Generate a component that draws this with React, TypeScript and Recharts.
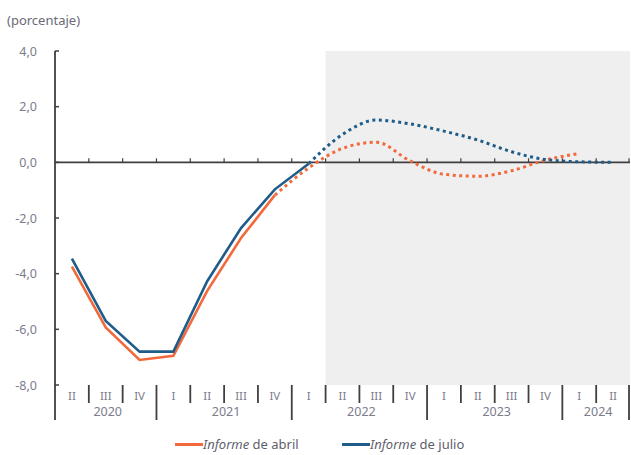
import { LineChart, Line, XAxis, YAxis, ReferenceArea, ReferenceLine } from 'recharts';

// Quarters shown on the horizontal axis, with their year
const quarters = ['II', 'III', 'IV', 'I', 'II', 'III', 'IV', 'I', 'II', 'III', 'IV', 'I', 'II', 'III', 'IV', 'I', 'II'];
const years = ['2020', '2020', '2020', '2021', '2021', '2021', '2021', '2022', '2022', '2022', '2022', '2023', '2023', '2023', '2023', '2024', '2024'];

// Informe de abril (orange) and Informe de julio (blue), percentage
const abril = [-3.75, -5.93, -7.1, -6.95, -4.62, -2.72, -1.18, -0.2, 0.5, 0.72, 0.05, -0.43, -0.5, -0.3, 0.08, 0.32, null];
const julio = [-3.46, -5.7, -6.8, -6.8, -4.27, -2.36, -0.97, -0.05, 1.0, 1.52, 1.38, 1.12, 0.8, 0.38, 0.1, 0.02, 0.0];

// last observed quarter (solid line); projections are dotted from there on
const abrilLastObserved = 6;
const julioLastObserved = 7;
// shaded projection period starts at this quarter (2022 II)
const shadeStart = 8;

const yTicks = [-8, -6, -4, -2, 0, 2, 4];

const data = quarters.map((q, i) => ({
  pos: i,
  abrilReal: i <= abrilLastObserved ? abril[i] : null,
  abrilProy: i >= abrilLastObserved ? abril[i] : null,
  julioReal: i <= julioLastObserved ? julio[i] : null,
  julioProy: i >= julioLastObserved ? julio[i] : null,
}));
const xTicks = quarters.map((_, i) => i);

const W = 631;
const H = 455;
const MARGIN = { top: 51, right: 1, left: 0, bottom: 0 };
const Y_AXIS_W = 55;
const X_AXIS_H = 70;
const PLOT_BOTTOM = H - MARGIN.bottom - X_AXIS_H;
const PLOT_WIDTH = W - MARGIN.left - MARGIN.right - Y_AXIS_W;
const BAND = PLOT_WIDTH / quarters.length;
const Y_MIN = -8;
const Y_MAX = 4;
const ZERO_Y = MARGIN.top + ((Y_MAX - 0) / (Y_MAX - Y_MIN)) * (PLOT_BOTTOM - MARGIN.top);

const ORANGE = '#F26A3B';
const BLUE = '#1F5C8A';
const AXIS = '#3f3f3f';
const LABEL = '#7c7c8c';
const FONT = '"Noto Sans", "Open Sans", sans-serif';

function QuarterTick(props: any) {
  const { x, payload } = props;
  const index = payload.value;
  const left = x - BAND / 2;
  const right = x + BAND / 2;
  const newYear = index === 0 || years[index] !== years[index - 1];
  const last = index === quarters.length - 1;

  // centre of the year group for the year label
  let yearLabel = null;
  if (newYear) {
    let n = 0;
    while (years[index + n] === years[index]) n++;
    yearLabel = (
      <text x={x + ((n - 1) / 2) * BAND + 2} y={PLOT_BOTTOM + 31} textAnchor="middle" fontSize={12.5} fill={LABEL} fontFamily={FONT}>
        {years[index]}
      </text>
    );
  }

  return (
    <g>
      <line x1={left} x2={left} y1={PLOT_BOTTOM} y2={PLOT_BOTTOM + (newYear ? 35 : 18)} stroke={AXIS} strokeWidth={1.8} />
      {last && <line x1={right - 1} x2={right - 1} y1={PLOT_BOTTOM} y2={PLOT_BOTTOM + 35} stroke={AXIS} strokeWidth={1.8} />}
      {index > 0 && <line x1={left} x2={left} y1={ZERO_Y - 4} y2={ZERO_Y} stroke={AXIS} strokeWidth={1.2} />}
      {last && <line x1={right - 1} x2={right - 1} y1={ZERO_Y - 4} y2={ZERO_Y} stroke={AXIS} strokeWidth={1.2} />}
      <text x={x} y={PLOT_BOTTOM + 15} textAnchor="middle" fontSize={11.5} fill={LABEL} fontFamily={FONT}>
        {quarters[index]}
      </text>
      {yearLabel}
    </g>
  );
}

function ValueTick(props: any) {
  const { y, payload } = props;
  const axisX = MARGIN.left + Y_AXIS_W;
  return (
    <g>
      <line x1={axisX} x2={axisX + 4} y1={y} y2={y} stroke={AXIS} strokeWidth={1.5} />
      <text x={axisX - 18} y={y + 4.5} textAnchor="end" fontSize={12.5} fill={LABEL} fontFamily={FONT}>
        {payload.value.toFixed(1).replace('.', ',')}
      </text>
    </g>
  );
}

export default function App() {
  return (
    <div style={{ position: 'absolute', left: 0, top: 0, width: W, height: H, background: 'white', fontFamily: FONT }}>
      <div style={{ position: 'absolute', left: 7, top: 10, fontSize: 13, lineHeight: '20px', color: '#6a6a78' }}>
        (porcentaje)
      </div>

      <LineChart width={W} height={H} data={data} margin={MARGIN}>
        <ReferenceArea x1={shadeStart - 0.5} x2={quarters.length - 0.5} y1={Y_MIN} y2={Y_MAX} fill="#efefef" fillOpacity={1} stroke="none" />
        <XAxis
          dataKey="pos"
          type="number"
          domain={[-0.5, quarters.length - 0.5]}
          ticks={xTicks}
          height={X_AXIS_H}
          axisLine={false}
          tickLine={false}
          interval={0}
          tick={<QuarterTick />}
        />
        <YAxis
          width={Y_AXIS_W}
          domain={[Y_MIN, Y_MAX]}
          ticks={yTicks}
          tickLine={false}
          axisLine={{ stroke: AXIS, strokeWidth: 1.8 }}
          tick={<ValueTick />}
        />
        <ReferenceLine y={0} stroke={AXIS} strokeWidth={1.6} />
        <Line dataKey="abrilReal" type="linear" stroke={ORANGE} strokeWidth={2.6} dot={false} isAnimationActive={false} />
        <Line dataKey="abrilProy" type="monotone" stroke={ORANGE} strokeWidth={3} strokeDasharray="3 3.5" dot={false} isAnimationActive={false} />
        <Line dataKey="julioReal" type="linear" stroke={BLUE} strokeWidth={2.6} dot={false} isAnimationActive={false} />
        <Line dataKey="julioProy" type="monotone" stroke={BLUE} strokeWidth={3} strokeDasharray="3 3.5" dot={false} isAnimationActive={false} />
      </LineChart>

      <div style={{ position: 'absolute', left: 0, top: 434, width: W, height: 20, fontSize: 13, color: '#5f5f6c' }}>
        <div style={{ position: 'absolute', left: 175, top: 0, display: 'flex', alignItems: 'center', height: 20 }}>
          <span style={{ width: 28, height: 3, background: ORANGE, display: 'inline-block' }} />
          <span><i>Informe</i> de abril</span>
        </div>
        <div style={{ position: 'absolute', left: 342, top: 0, display: 'flex', alignItems: 'center', height: 20 }}>
          <span style={{ width: 28, height: 3, background: BLUE, display: 'inline-block' }} />
          <span><i>Informe</i> de julio</span>
        </div>
      </div>
    </div>
  );
}
